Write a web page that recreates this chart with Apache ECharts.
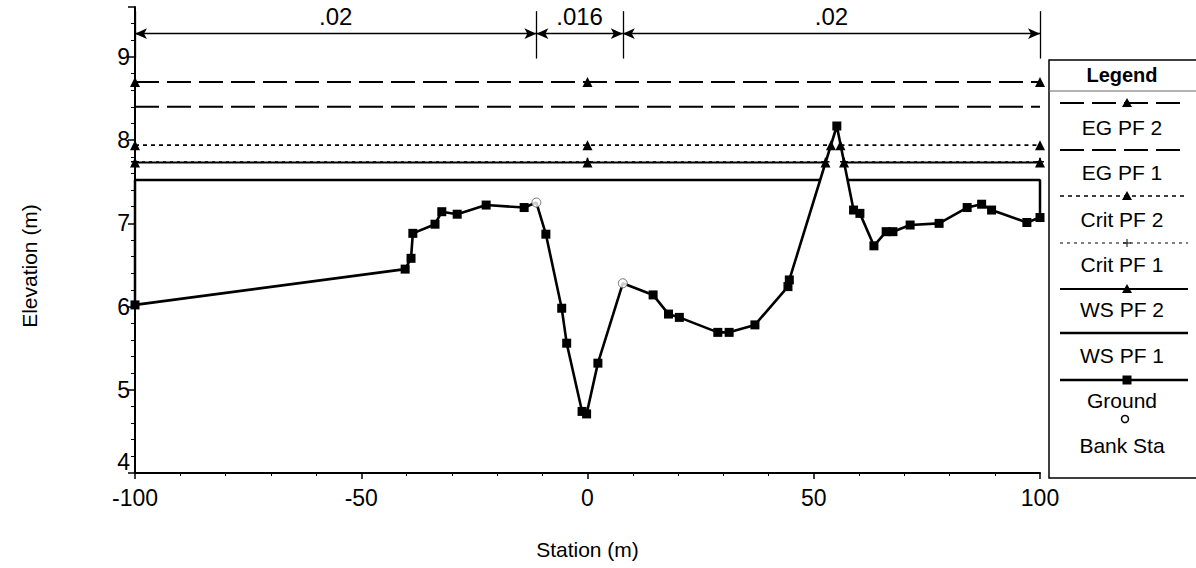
<!DOCTYPE html>
<html>
<head>
<meta charset="utf-8">
<script src="https://cdn.jsdelivr.net/npm/echarts@6/dist/echarts.min.js"></script>
<style>
html,body{margin:0;padding:0;background:#fff;}
#chart{width:1196px;height:568px;}
</style>
</head>
<body>
<div id="chart"></div>
<script>
// ---------- DATA ----------
const xTicks = [-100, -50, 0, 50, 100];
const yTicks = [4, 5, 6, 7, 8, 9];
const seriesNames = ['EG PF 2', 'EG PF 1', 'Crit PF 2', 'Crit PF 1', 'WS PF 2', 'WS PF 1', 'Ground', 'Bank Sta'];

const groundStation = [-100, -40.3, -39.0, -38.6, -33.7, -32.2, -28.8, -22.4, -14.0, -11.3, -9.2, -5.7, -4.6, -1.2, -0.2, 2.3, 7.8, 14.5, 17.9, 20.3, 28.8, 31.3, 37.0, 44.3, 44.6, 55.1, 58.8, 60.2, 63.3, 66.0, 67.5, 71.3, 77.7, 83.9, 87.1, 89.3, 97.1, 100];
const groundElev    = [6.02, 6.45, 6.58, 6.88, 6.99, 7.14, 7.11, 7.22, 7.19, 7.25, 6.87, 5.98, 5.56, 4.74, 4.71, 5.32, 6.28, 6.14, 5.91, 5.87, 5.69, 5.69, 5.78, 6.24, 6.32, 8.17, 7.16, 7.12, 6.73, 6.90, 6.90, 6.98, 7.00, 7.19, 7.23, 7.16, 7.01, 7.07];

const bankStation = [-11.3, 7.8];
const bankElev    = [7.25, 6.28];

const egPF2   = [[-100, 8.70], [0, 8.70], [100, 8.70]];
const egPF1   = [[-100, 8.40], [100, 8.40]];
const critPF2 = [[-100, 7.94], [0, 7.94], [53.8, 7.94], [54.8, '-'], [55.9, 7.94], [100, 7.94]];
const critPF1 = [[-100, 7.74], [0, 7.74], [52.6, 7.74], [54.8, '-'], [56.7, 7.74], [100, 7.74]];
const wsPF2   = [[-100, 7.73], [0, 7.73], [52.6, 7.73], [54.8, '-'], [56.7, 7.73], [100, 7.73]];
const wsPF1   = [[-100, 6.02], [-100, 7.52], [51.4, 7.52], [54.5, '-'], [57.5, 7.52], [100, 7.52], [100, 7.07]];

// Manning's n regions (top annotation)
const nBreaks = [-100, -11.3, 7.8, 100];
const nLabels = ['.02', '.016', '.02'];
const nArrowElev = 9.28;
const nTickRange = [8.98, 9.55];

// ---------- STYLE ----------
const FONT = '"Liberation Sans", Arial, sans-serif';
const BLACK = '#000';
const plusPath = 'path://M4,0 L6,0 L6,4 L10,4 L10,6 L6,6 L6,10 L4,10 L4,6 L0,6 L0,4 L4,4 Z';

const styles = {
  'EG PF 2':   {type: [24, 8], width: 2, symbol: 'triangle', size: 10},
  'EG PF 1':   {type: [24, 8], width: 2, symbol: 'none', size: 0},
  'Crit PF 2': {type: [4, 4], width: 1.6, symbol: 'triangle', size: 10},
  'Crit PF 1': {type: [3, 4], width: 1.2, symbol: plusPath, size: 8},
  'WS PF 2':   {type: 'solid', width: 2, symbol: 'triangle', size: 10},
  'WS PF 1':   {type: 'solid', width: 2.5, symbol: 'none', size: 0},
  'Ground':    {type: 'solid', width: 2.6, symbol: 'rect', size: 9}
};
const lineData = {
  'EG PF 2': egPF2, 'EG PF 1': egPF1, 'Crit PF 2': critPF2,
  'Crit PF 1': critPF1, 'WS PF 2': wsPF2, 'WS PF 1': wsPF1
};

const series = [];
['EG PF 1', 'EG PF 2', 'Crit PF 1', 'Crit PF 2', 'WS PF 1', 'WS PF 2'].forEach(function (nm) {
  const s = styles[nm];
  series.push({
    name: nm, type: 'line', data: lineData[nm],
    symbol: s.symbol, symbolSize: s.size, showSymbol: s.symbol !== 'none',
    connectNulls: false, clip: false,
    lineStyle: {color: BLACK, width: s.width, type: s.type},
    itemStyle: {color: BLACK, borderWidth: 0},
    z: 3
  });
});

series.push({
  name: 'Ground', type: 'line',
  data: groundStation.map(function (x, i) {
    return {value: [x, groundElev[i]], symbol: bankStation.indexOf(x) >= 0 ? 'none' : 'rect'};
  }),
  symbol: 'rect', symbolSize: 9, clip: false,
  lineStyle: {color: BLACK, width: 2.6},
  itemStyle: {color: BLACK, borderWidth: 0},
  z: 5
});

series.push({
  name: 'Bank Sta', type: 'scatter',
  data: bankStation.map(function (x, i) { return [x, bankElev[i]]; }),
  symbol: 'circle', symbolSize: 9, clip: false,
  itemStyle: {color: '#fff', borderColor: '#555', borderWidth: 1},
  z: 6
});

// Top annotation: n-value arrows and break ticks
const markData = [];
for (let i = 0; i < nLabels.length; i++) {
  markData.push([
    {coord: [nBreaks[i], nArrowElev], name: nLabels[i]},
    {coord: [nBreaks[i + 1], nArrowElev]}
  ]);
}
nBreaks.forEach(function (x) {
  markData.push([
    {coord: [x, nTickRange[0]], symbol: 'none', label: {show: false}},
    {coord: [x, nTickRange[1]], symbol: 'none'}
  ]);
});
series.push({
  name: 'n', type: 'line', data: [],
  markLine: {
    silent: true, animation: false,
    symbol: ['arrow', 'arrow'], symbolSize: [8, 12],
    lineStyle: {color: BLACK, width: 1.3, type: 'solid'},
    label: {
      show: true, position: 'middle', formatter: '{b}',
      color: BLACK, fontFamily: FONT, fontSize: 24,
      backgroundColor: '#fff', padding: [0, 5]
    },
    data: markData
  }
});

// ---------- LEGEND (graphic) ----------
const graphics = [];
const LX = 1049, LY = 60;
graphics.push({type: 'rect', shape: {x: LX, y: LY, width: 200, height: 418},
  style: {fill: 'none', stroke: BLACK, lineWidth: 1.5}, silent: true});
graphics.push({type: 'line', shape: {x1: LX, y1: 91, x2: 1196, y2: 91},
  style: {stroke: '#666', lineWidth: 1}, silent: true});
graphics.push({type: 'text', x: 1122, y: 75,
  style: {text: 'Legend', font: 'bold 20px ' + FONT, fill: BLACK, textAlign: 'center', textVerticalAlign: 'middle'}});

const legendLineY = [103, 150, 196, 243, 289, 333, 380];
const legendTextY = [127, 172, 219, 264, 309, 355, 400];
const LX1 = 1060, LX2 = 1188, LMX = 1127;
function markerGraphic(sym, cx, cy) {
  if (sym === 'triangle') {
    return {type: 'polygon', shape: {points: [[cx - 5, cy + 4], [cx + 5, cy + 4], [cx, cy - 5]]}, style: {fill: BLACK}};
  } else if (sym === 'rect') {
    return {type: 'rect', shape: {x: cx - 4.5, y: cy - 4.5, width: 9, height: 9}, style: {fill: BLACK}};
  } else if (sym === plusPath) {
    return {type: 'group', children: [
      {type: 'line', shape: {x1: cx - 4, y1: cy, x2: cx + 4, y2: cy}, style: {stroke: BLACK, lineWidth: 1}},
      {type: 'line', shape: {x1: cx, y1: cy - 4, x2: cx, y2: cy + 4}, style: {stroke: BLACK, lineWidth: 1}}
    ]};
  }
  return null;
}
seriesNames.slice(0, 7).forEach(function (nm, i) {
  const s = styles[nm];
  const dash = Array.isArray(s.type) ? s.type : null;
  graphics.push({type: 'line', shape: {x1: LX1, y1: legendLineY[i], x2: LX2, y2: legendLineY[i]},
    style: {stroke: BLACK, lineWidth: s.width, lineDash: dash}, silent: true});
  const m = markerGraphic(s.symbol, LMX, legendLineY[i]);
  if (m) graphics.push(m);
  graphics.push({type: 'text', x: 1122, y: legendTextY[i],
    style: {text: nm, font: '21px ' + FONT, fill: BLACK, textAlign: 'center', textVerticalAlign: 'middle'}});
});
graphics.push({type: 'circle', shape: {cx: 1125, cy: 419, r: 3.5},
  style: {fill: '#fff', stroke: BLACK, lineWidth: 1.5}});
graphics.push({type: 'text', x: 1122, y: 445,
  style: {text: seriesNames[7], font: '21px ' + FONT, fill: BLACK, textAlign: 'center', textVerticalAlign: 'middle'}});

// ---------- CHART ----------
const chart = echarts.init(document.getElementById('chart'), null, {renderer: 'svg'});
chart.setOption({
  animation: false,
  backgroundColor: '#fff',
  grid: {left: 135, right: 156, top: 7, bottom: 95, containLabel: false},
  xAxis: {
    type: 'value', min: xTicks[0], max: xTicks[xTicks.length - 1], interval: 50,
    name: 'Station (m)', nameLocation: 'middle', nameGap: 66,
    nameTextStyle: {fontFamily: FONT, fontSize: 21, color: BLACK},
    axisLine: {show: true, onZero: false, lineStyle: {color: BLACK, width: 2}},
    axisTick: {show: true, inside: false, length: 6, lineStyle: {color: BLACK, width: 1.5}},
    minorTick: {show: true, splitNumber: 5, length: 3, lineStyle: {color: BLACK, width: 1}},
    axisLabel: {fontFamily: FONT, fontSize: 23, color: BLACK, margin: 13},
    splitLine: {show: false}
  },
  yAxis: {
    type: 'value', min: yTicks[0], max: 9.6, interval: 1,
    name: 'Elevation (m)', nameLocation: 'middle', nameGap: 95, nameRotate: 90,
    nameTextStyle: {fontFamily: FONT, fontSize: 21, color: BLACK, padding: [0, 52, 0, 0]},
    axisLine: {show: true, onZero: false, lineStyle: {color: BLACK, width: 2}},
    axisTick: {show: true, inside: false, length: 7, lineStyle: {color: BLACK, width: 1.5}},
    minorTick: {show: true, splitNumber: 5, length: 4, lineStyle: {color: BLACK, width: 1}},
    axisLabel: {
      fontFamily: FONT, fontSize: 23, color: BLACK, margin: 5,
      verticalAlignMinLabel: 'bottom',
      formatter: function (v) { return yTicks.indexOf(v) >= 0 ? String(v) : ''; }
    },
    splitLine: {show: false}
  },
  graphic: graphics,
  series: series
});
</script>
</body>
</html>
